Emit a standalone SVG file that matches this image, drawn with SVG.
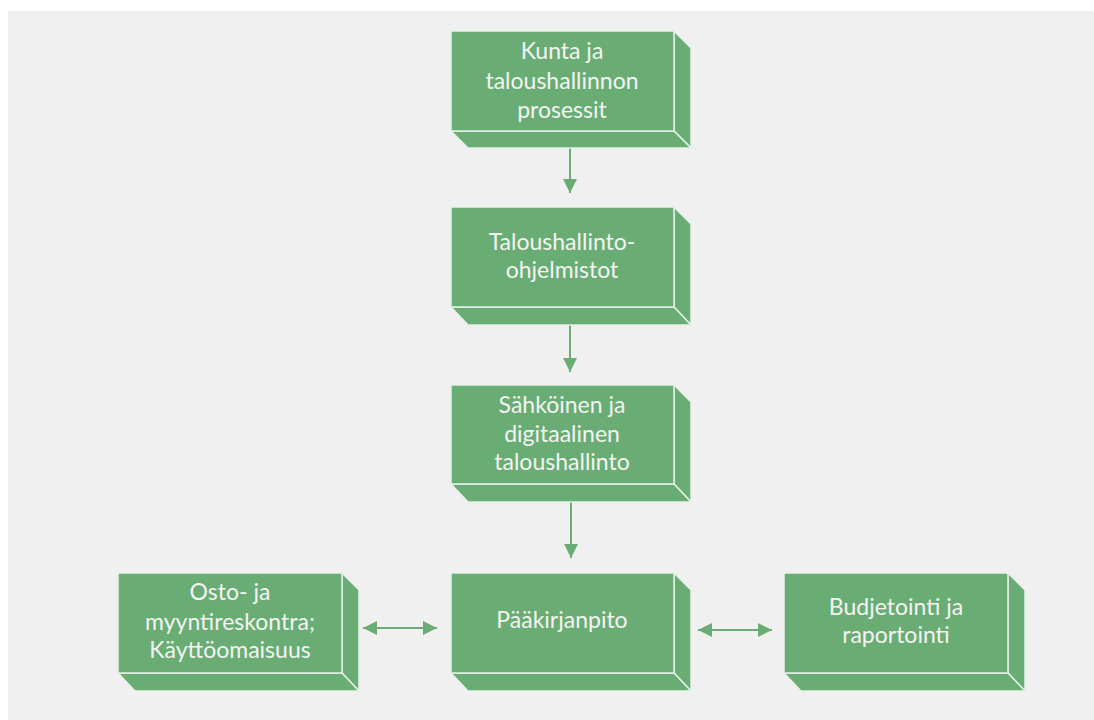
<svg xmlns="http://www.w3.org/2000/svg" width="1094" height="720" viewBox="0 0 1094 720">
<defs>
<style>
.face{fill:#6aad74;stroke:#e6f1e7;stroke-width:1.5;stroke-linejoin:miter}
.lbl{font-family:Lato,"Liberation Sans",sans-serif;font-size:23px;fill:#f3f3f3;text-anchor:middle}
.con{stroke:#6aad74;stroke-width:2;fill:none}
</style>
<marker id="ah" viewBox="0 0 14 14" refX="14" refY="7" markerWidth="14" markerHeight="14" markerUnits="userSpaceOnUse" orient="auto-start-reverse">
<path d="M0,0 L14,7 L0,14 Z" fill="#6aad74"/>
</marker>
</defs>
<rect x="0" y="0" width="1094" height="720" fill="#ffffff"/>
<rect x="8" y="11" width="1086" height="709" fill="#f0f0f0"/>

<g id="connectors">
<line class="con" x1="570" y1="148" x2="570" y2="193" marker-end="url(#ah)"/>
<line class="con" x1="570" y1="325" x2="570" y2="372" marker-end="url(#ah)"/>
<line class="con" x1="571" y1="502" x2="571" y2="558" marker-end="url(#ah)"/>
<line class="con" x1="363" y1="628" x2="437" y2="628" marker-start="url(#ah)" marker-end="url(#ah)"/>
<line class="con" x1="698" y1="630" x2="772" y2="630" marker-start="url(#ah)" marker-end="url(#ah)"/>
</g>

<g id="node1">
<polygon class="face" points="674,31 691,48 691,148 674,131"/>
<polygon class="face" points="451,131 674,131 691,148 468,148"/>
<rect class="face" x="451" y="31" width="223" height="100"/>
<text class="lbl" x="562" y="59">Kunta ja</text>
<text class="lbl" x="562" y="89">taloushallinnon</text>
<text class="lbl" x="562" y="118">prosessit</text>
</g>

<g id="node2">
<polygon class="face" points="674,207 691,224 691,325 674,307"/>
<polygon class="face" points="451,307 674,307 691,325 468,325"/>
<rect class="face" x="451" y="207" width="223" height="100"/>
<text class="lbl" x="562" y="250">Taloushallinto-</text>
<text class="lbl" x="562" y="278">ohjelmistot</text>
</g>

<g id="node3">
<polygon class="face" points="674,385 691,402 691,502 674,484"/>
<polygon class="face" points="451,484 674,484 691,502 468,502"/>
<rect class="face" x="451" y="385" width="223" height="99"/>
<text class="lbl" x="562" y="413">Sähköinen ja</text>
<text class="lbl" x="562" y="442">digitaalinen</text>
<text class="lbl" x="562" y="470">taloushallinto</text>
</g>

<g id="node4">
<polygon class="face" points="674,573 691,590 691,691 674,673"/>
<polygon class="face" points="451,673 674,673 691,691 468,691"/>
<rect class="face" x="451" y="573" width="223" height="100"/>
<text class="lbl" x="562" y="628">Pääkirjanpito</text>
</g>

<g id="node5">
<polygon class="face" points="342,573 359,590 359,691 342,673"/>
<polygon class="face" points="118,673 342,673 359,691 135,691"/>
<rect class="face" x="118" y="573" width="224" height="100"/>
<text class="lbl" x="230" y="600">Osto- ja</text>
<text class="lbl" x="230" y="630">myyntireskontra;</text>
<text class="lbl" x="230" y="658">Käyttöomaisuus</text>
</g>

<g id="node6">
<polygon class="face" points="1008,573 1025,590 1025,691 1008,673"/>
<polygon class="face" points="784,673 1008,673 1025,691 801,691"/>
<rect class="face" x="784" y="573" width="224" height="100"/>
<text class="lbl" x="896" y="615">Budjetointi ja</text>
<text class="lbl" x="896" y="643">raportointi</text>
</g>
</svg>
